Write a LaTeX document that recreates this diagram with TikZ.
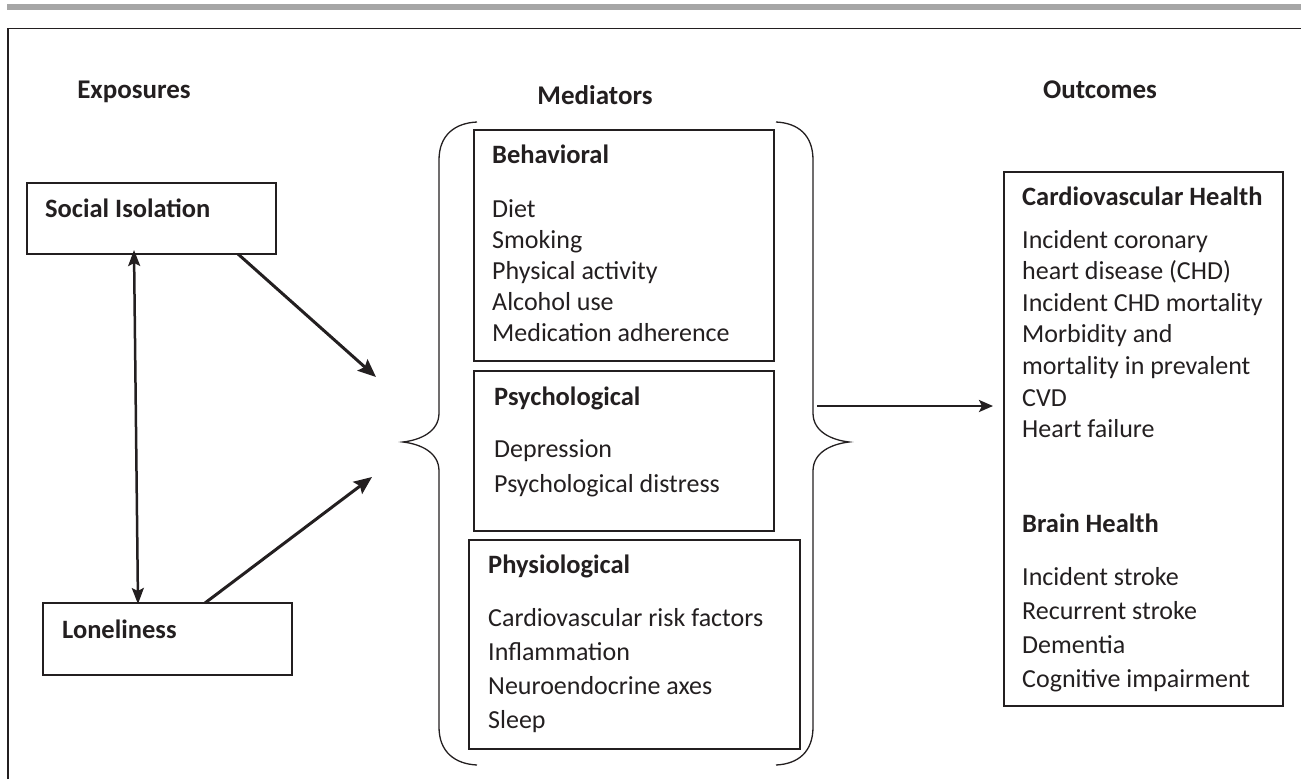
\documentclass[tikz,border=0pt]{standalone}
\usepackage{fontspec}
\setmainfont{Carlito}
\usetikzlibrary{arrows.meta}
\definecolor{ink}{HTML}{231F20}
\begin{document}
\begin{tikzpicture}[x=1pt,y=-1pt,
  >={Stealth[length=18pt,width=15pt,inset=3pt]},
  box/.style={draw=ink, line width=1.5pt, inner sep=0pt, outer sep=0pt},
  txt/.style={anchor=base west, inner sep=0pt, font=\fontsize{26}{30}\selectfont, text=ink},
  hd/.style={anchor=base west, inner sep=0pt, font=\fontsize{26.5}{30}\selectfont\bfseries, text=ink},
  chd/.style={anchor=base, inner sep=0pt, font=\fontsize{27}{30}\selectfont\bfseries, text=ink},
  arr/.style={draw=ink, line width=3pt, ->},
  brace/.style={draw=ink, line width=1.3pt}]
\useasboundingbox (0,0) rectangle (1301,779);
% top rule and frame
\fill[black!35] (7,4) rectangle (1301,9.5);
\draw[ink, line width=1.5pt] (8,779) -- (8,28.5) -- (1301,28.5);
% column headings
\node[chd] (hexp) at (134,98) {Exposures};
\node[chd] (hmed) at (595,104) {Mediators};
\node[chd] (hout) at (1100,98) {Outcomes};
% exposure boxes
\node[box, minimum width=249pt, minimum height=71pt] (si) at (151.5,218.5) {};
\node[hd] (sit) at (45,217) {Social Isolation};
\node[box, minimum width=249pt, minimum height=72pt] (lo) at (167.5,639) {};
\node[hd] (lot) at (62,638) {Loneliness};
% mediator boxes
\node[box, minimum width=300pt, minimum height=231pt] (beh) at (624,245.5) {};
\node[hd] (beht) at (492,163) {Behavioral};
\foreach \t [count=\i] in {Diet,Smoking,Physical activity,Alcohol use,Medication adherence}
  \node[txt] (b\i) at (492,217+31*\i-31) {\t};
\node[box, minimum width=300pt, minimum height=160pt] (psy) at (624,451) {};
\node[hd] (psyt) at (494,405) {Psychological};
\node[txt] (p1) at (494,457) {Depression};
\node[txt] (p2) at (494,492) {Psychological distress};
\node[box, minimum width=331pt, minimum height=209pt] (phy) at (634.5,644.5) {};
\node[hd] (phyt) at (488,573) {Physiological};
\foreach \t [count=\i] in {Cardiovascular risk factors,Inflammation,Neuroendocrine axes,Sleep}
  \node[txt] (f\i) at (488,626+34.3*\i-34.3) {\t};
% outcome box
\node[box, minimum width=279pt, minimum height=534pt] (out) at (1143.5,439) {};
\node[hd] (cvh) at (1022,205) {Cardiovascular Health};
\foreach \t [count=\i] in {Incident coronary,heart disease (CHD),Incident CHD mortality,Morbidity and,mortality in prevalent,CVD,Heart failure}
  \node[txt] (c\i) at (1022,248+31.6*\i-31.6) {\t};
\node[hd] (bh) at (1022,532) {Brain Health};
\foreach \t [count=\i] in {Incident stroke,Recurrent stroke,Dementia,Cognitive impairment}
  \node[txt] (r\i) at (1022,585+34*\i-34) {\t};
% braces
\draw[brace] (477,122) .. controls (455,123) and (439,135) .. (439,160)
  -- (439,413) .. controls (439,432) and (420,440) .. (403,442)
  .. controls (420,444) and (439,452) .. (439,471)
  -- (439,727) .. controls (439,752) and (455,764) .. (477,765);
\draw[brace] (776,122) .. controls (798,123) and (813,135) .. (813,160)
  -- (813,413) .. controls (813,432) and (832,440) .. (849,442)
  .. controls (832,444) and (813,452) .. (813,471)
  -- (813,727) .. controls (813,752) and (798,764) .. (776,765);
% connectors
\coordinate (m1) at (376,377);
\coordinate (m2) at (372,477);
\coordinate (medR) at (817,406);
\draw[arr] ([xshift=-38pt]si.south east) -- (m1);
\draw[arr] ([xshift=37.5pt]lo.north) -- (m2);
\draw[draw=ink, line width=2.5pt, <->, >={Stealth[length=16pt,width=12pt,inset=3pt]}] ([xshift=-17.5pt,yshift=4pt]si.south) -- ([xshift=-29.5pt,yshift=-1pt]lo.north);
\draw[draw=ink, line width=2.5pt, -{Stealth[length=14pt,width=12pt,inset=3pt]}] (medR) -- ([xshift=-11pt]medR -| out.west);
\end{tikzpicture}
\end{document}
